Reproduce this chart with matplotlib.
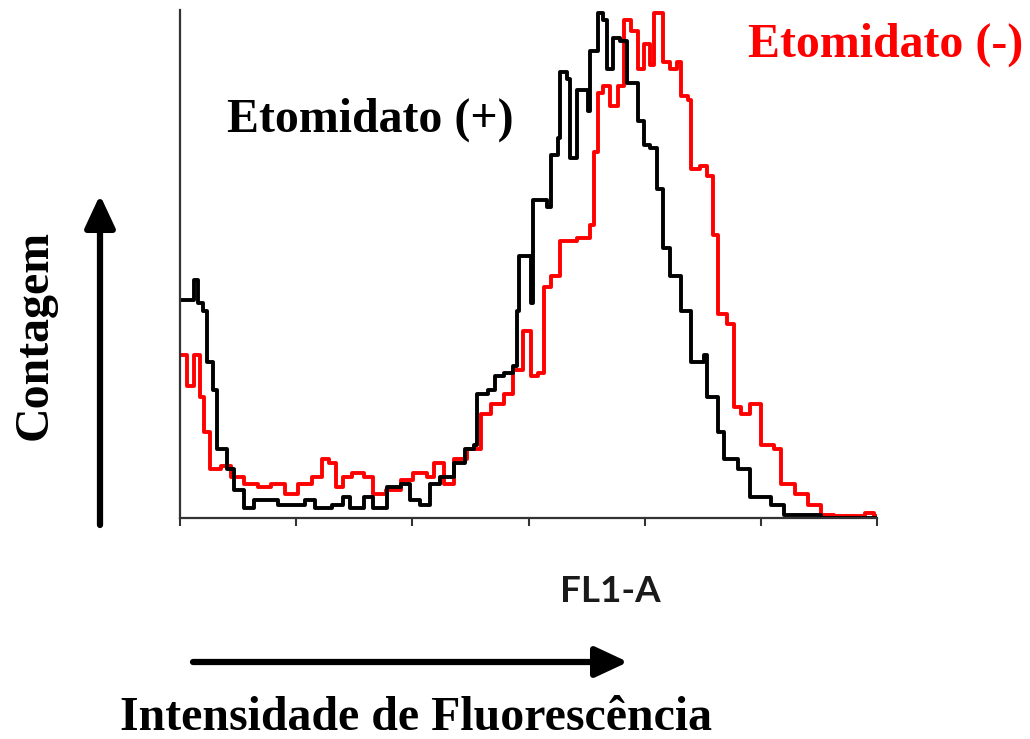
import matplotlib
matplotlib.use("Agg")
import matplotlib.pyplot as plt

canal_mais = [0, 12, 15.5, 20, 23, 28, 32, 40.5, 46.5, 55, 64, 84.5, 108, 116, 131, 140,
              146, 158, 166, 178, 190, 198, 207, 215.5, 224, 236, 245, 253, 256, 265.5,
              271, 279, 287, 290, 292, 299, 302, 304, 316, 319, 325, 327.5, 333.5, 336,
              342, 351, 353, 359.5, 364.5, 368, 373, 379, 385, 394, 399, 405, 411, 416,
              422, 431, 440, 451, 454, 463, 468, 480, 491, 508.6, 520, 540.5, 552, 600]
cont_mais = [210, 230, 207, 200, 150, 123, 67, 47, 27, 10, 17, 13, 17, 10, 13, 20,
             10, 20, 10, 30, 33, 17, 13, 33, 40, 53, 67, 70, 120, 123,
             137, 140, 147, 200, 253, 253, 207, 307, 300, 350, 367, 430, 423, 347,
             413, 393, 450, 487, 480, 433, 463, 460, 420, 383, 360, 357, 317, 260,
             233, 200, 150, 157, 117, 83, 57, 47, 20, 13, 3, 3, 0, 0]

canal_menos = [0, 6, 12, 17, 20.7, 26, 35.3, 44, 55, 67, 78.5, 90.5, 102, 114, 122.6,
               128.6, 134.5, 140, 148, 158, 166, 177, 190, 201, 213, 219, 227.5, 236,
               247, 259, 268, 279, 287, 295.5, 302, 308, 313, 319, 327.5, 342, 351, 353,
               356, 359.5, 364.5, 370.5, 377, 382, 388, 394, 399, 405, 408, 414, 416,
               422, 428, 431, 437, 440, 448, 454, 459, 463, 471, 477, 483, 491, 500,
               511, 517, 529, 541, 552, 563, 590, 597, 600]
cont_menos = [157, 127, 157, 117, 83, 47, 50, 40, 33, 30, 33, 23, 33, 40, 57,
              53, 30, 40, 43, 40, 23, 27, 37, 43, 40, 53, 33, 57,
              67, 100, 110, 120, 143, 180, 137, 140, 223, 233, 267, 270, 270, 283,
              353, 410, 417, 397, 417, 480, 470, 433, 457, 437, 487, 487, 440,
              433, 440, 407, 403, 337, 340, 330, 273, 197, 187, 107, 100, 110, 70,
              67, 33, 23, 13, 3, 2, 5, 2, 0]

ticks_x = [0, 100, 200, 300, 400, 500, 600]

W, H = 1030, 739
fig = plt.figure(figsize=(W / 100, H / 100), dpi=100)
ax = fig.add_axes([180 / W, 1 - 518 / H, 697 / W, 508 / H])

ax.plot(canal_menos, cont_menos, drawstyle="steps-post", color="#ff0000", lw=2.8)
ax.plot(canal_mais, cont_mais, drawstyle="steps-post", color="black", lw=2.8)

ax.set_xlim(0, 600)
ax.set_ylim(0, 490)
ax.set_xticks(ticks_x)
ax.set_xticklabels([])
ax.set_yticks([])
ax.tick_params(axis="x", direction="out", length=6, width=1.5, color="#333333")
for s in ["top", "right"]:
    ax.spines[s].set_visible(False)
for s in ["left", "bottom"]:
    ax.spines[s].set_linewidth(1.6)
    ax.spines[s].set_color("#333333")

serif = dict(family="Liberation Serif", weight="bold", fontsize=34.5)
fig.text(370 / W, 1 - 120 / H, "Etomidato (+)", ha="center", va="center", color="black", **serif)
fig.text(886 / W, 1 - 45 / H, "Etomidato (-)", ha="center", va="center", color="#ff0000", **serif)
fig.text(35 / W, 1 - 335 / H, "Contagem", ha="center", va="center", rotation=90, **serif)
fig.text(416 / W, 1 - 718 / H, "Intensidade de Fluorescência", ha="center", va="center", **serif)
fig.text(610 / W, 1 - 592 / H, "FL1-A", ha="center", va="center", color="#1a1a1a",
         family="Lato", weight="bold", fontsize=26.5)

# setas dos eixos
seta = dict(arrowstyle="-|>,head_length=0.9,head_width=0.42", lw=4.5, color="black",
            mutation_scale=22, shrinkA=0, shrinkB=0)
ax.annotate("", xy=(100, H - 195), xytext=(100, H - 525), xycoords="figure pixels",
            textcoords="figure pixels", arrowprops=seta)
ax.annotate("", xy=(628, H - 662), xytext=(193, H - 662), xycoords="figure pixels",
            textcoords="figure pixels", arrowprops=seta)

fig.savefig("out.png", dpi=100)
